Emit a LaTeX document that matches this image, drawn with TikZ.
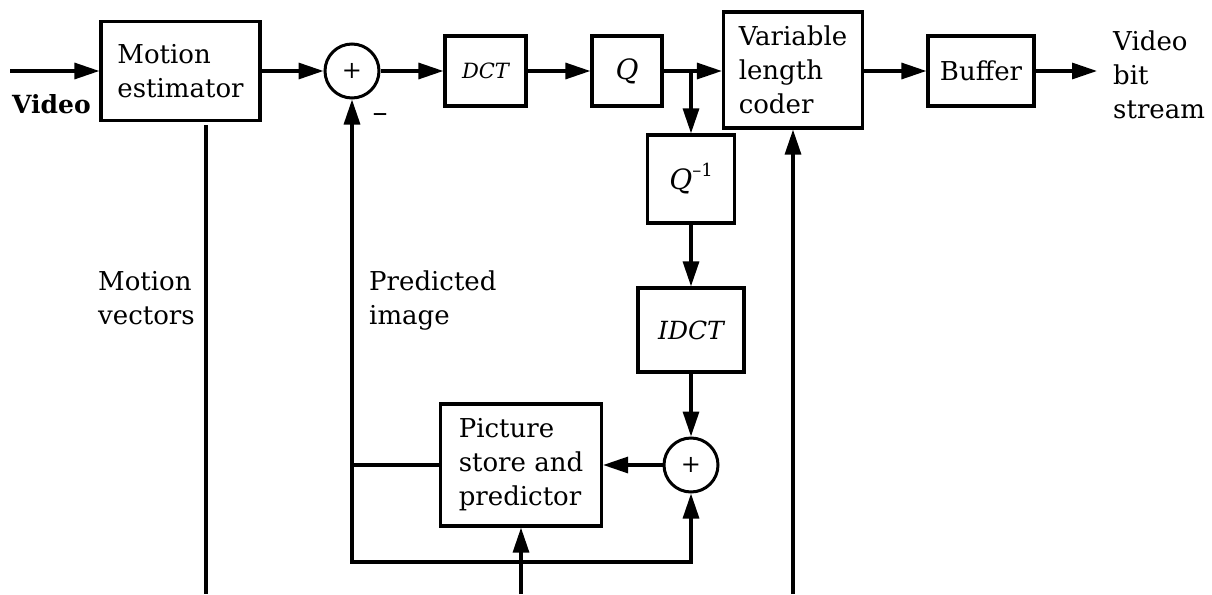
\documentclass[tikz,border=0pt]{standalone}
\usepackage{fontspec}
\setmainfont{DejaVu Serif}
\usetikzlibrary{arrows.meta}
\begin{document}
\begin{tikzpicture}[x=1pt,y=-1pt,
  every node/.style={font=\fontsize{26}{34}\selectfont},
  blk/.style={draw,line width=3.2pt,inner sep=0pt,align=left},
  sumnode/.style={draw,circle,line width=3pt,minimum size=54pt,inner sep=0pt,font=\fontsize{24}{24}\selectfont},
  lbl/.style={inner sep=0pt,align=left,anchor=base west},
  wire/.style={line width=3.2pt},
  tip/.tip={Triangle[length=25pt,width=16pt]},
  flow/.style={wire,-tip}]
\useasboundingbox (0,0) rectangle (1212,594);

% main coding path
\node[blk,minimum width=159pt,minimum height=99pt] (me) at (180.5,71) {Motion\\estimator};
\node[sumnode] (s1) at (352,71) {+};
\node[blk,minimum width=81pt,minimum height=70pt,font=\fontsize{21}{21}\selectfont\itshape] (dct) at (485.5,71) {DCT};
\node[blk,minimum width=70pt,minimum height=70pt,font=\fontsize{28}{28}\selectfont\itshape] (q) at (627,71) {Q};
\node[blk,minimum width=139pt,minimum height=116pt] (vlc) at (793,70) {Variable\\length\\coder};
\node[blk,minimum width=106pt,minimum height=70pt] (buf) at (981,71) {Buffer};

% reconstruction loop
\node[blk,minimum width=87pt,minimum height=88pt] (qi) at (691,179) {{\fontsize{28}{28}\selectfont\itshape Q}\raisebox{0.5em}{\fontsize{18}{18}\selectfont –1}};
\node[blk,minimum width=106pt,minimum height=84pt,font=\fontsize{25}{25}\selectfont\itshape] (idct) at (691,330) {IDCT};
\node[sumnode] (s2) at (691,465) {+};
\node[blk,minimum width=161pt,minimum height=122pt] (ps) at (521,465) {Picture\\store and\\predictor};

% free ends
\coordinate (vin) at (10,71);
\coordinate (vout) at (1097,71);
\coordinate (br) at (691,71);
\coordinate (lb) at (352,562);
\coordinate (mvtop) at (206,125);
\coordinate (mvbot) at (206,594);
\coordinate (psin) at (521,594);
\coordinate (vlcin) at (793,594);

% connectors
\draw[flow] (vin) -- (me.west);
\draw[flow] (me.east) -- (s1.west);
\draw[flow] (s1.east) -- (dct.west);
\draw[flow] (dct.east) -- (q.west);
\draw[flow] (q.east) -- (vlc.west |- q.east);
\draw[flow] (br) -- (qi.north);
\draw[flow] (vlc.east |- buf.west) -- (buf.west);
\draw[flow] (buf.east) -- (vout);
\draw[flow] (qi.south) -- (idct.north);
\draw[flow] (idct.south) -- (s2.north);
\draw[flow] (s2.west) -- (ps.east);
\draw[wire] (ps.west) -- (ps.west -| lb);
\draw[wire,tip-tip] (s1.south) -- (lb) -| (s2.south);
\draw[wire] (mvtop) -- (mvbot);
\draw[flow] (psin) -- (ps.south);
\draw[flow] (vlcin) -- (vlc.south);

% labels (base anchor sits on the last line of each label)
\node[lbl,font=\fontsize{25}{34}\selectfont\bfseries] (vid) at (12,113) {Video};
\node[inner sep=0pt,font=\fontsize{30}{30}\selectfont] (minus) at (380,118) {–};
\node[lbl] (mv) at (98,324) {Motion\\vectors};
\node[lbl] (pi) at (369,324) {Predicted\\image};
\node[lbl] (bs) at (1113,118) {Video\\bit\\stream};
\end{tikzpicture}
\end{document}
